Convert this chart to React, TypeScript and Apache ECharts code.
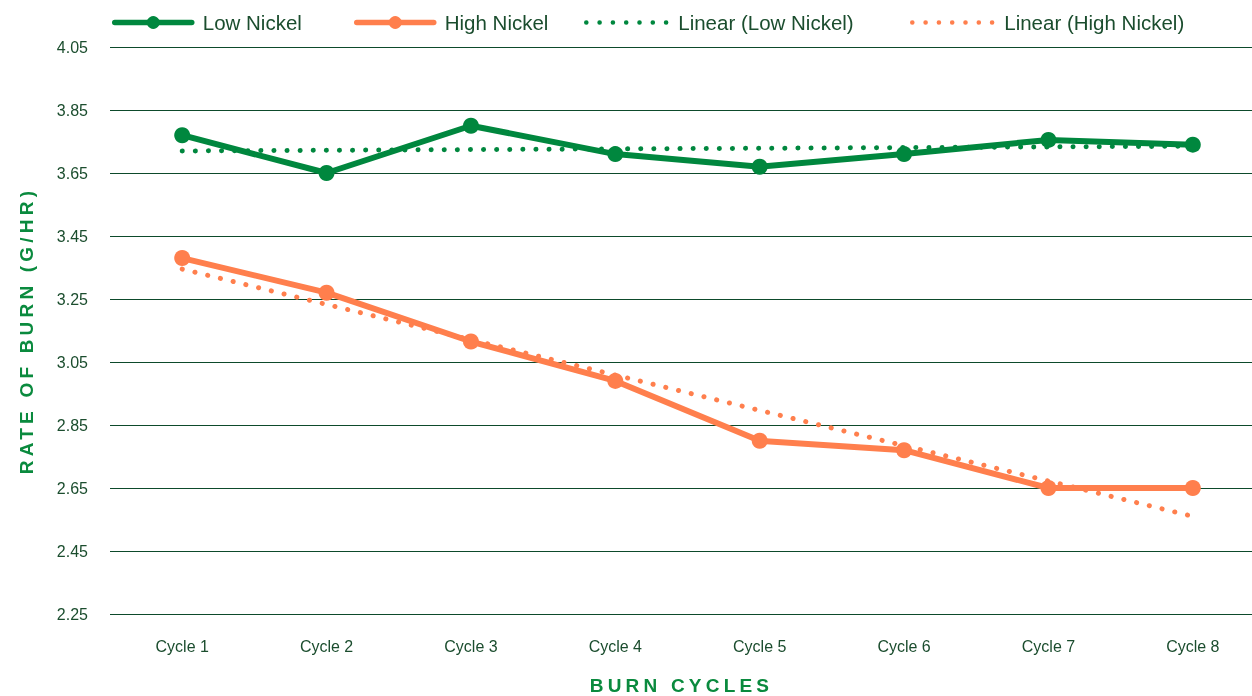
import React, { useEffect, useRef } from "react";
import * as echarts from "echarts";

const categories = ["Cycle 1", "Cycle 2", "Cycle 3", "Cycle 4", "Cycle 5", "Cycle 6", "Cycle 7", "Cycle 8"];
const lowNickel = [3.77, 3.65, 3.8, 3.71, 3.67, 3.71, 3.755, 3.74];
const highNickel = [3.38, 3.27, 3.115, 2.99, 2.8, 2.77, 2.65, 2.65];
const linearLowNickel: [number, number][] = [[0, 3.72], [7, 3.735]];
const linearHighNickel: [number, number][] = [[0, 3.345], [7, 2.56]];
const yMin = 2.25;
const yMax = 4.05;
const yStep = 0.2;

const GREEN = "#00873E";
const ORANGE = "#FF7F4D";
const TEXT = "#1B4D2E";
const TITLE = "#0A8A3E";
const GRID = "#0D4A2B";
const FONT = "'Liberation Sans', Arial, sans-serif";

export default function App() {
  const ref = useRef<HTMLDivElement>(null);
  useEffect(() => {
    if (!ref.current) return;
    const chart = echarts.init(ref.current, undefined, { renderer: "svg" });
    const legendText = (p: number) => ({ color: TEXT, fontSize: 20.5, fontFamily: FONT, padding: [0, 0, 0, p] });
    const dotLine = (c: string) => ({ color: c, width: 5, type: [0.1, 13], cap: "round" });
    const solidLegend = (name: string, left: number) => ({
      data: [{ name }],
      left,
      top: 7,
      itemWidth: 77,
      itemHeight: 16,
      textStyle: legendText(6),
      selectedMode: false,
      lineStyle: { width: 5.5, cap: "round" },
    });
    const dotLegend = (name: string, left: number) => ({
      data: [{ name }],
      left,
      top: 7,
      itemWidth: 80,
      itemHeight: 16,
      textStyle: legendText(7),
      selectedMode: false,
      itemStyle: { opacity: 0 },
      lineStyle: { width: 4.5, type: [0.1, 13.2], cap: "round" },
    });
    chart.setOption({
      animation: false,
      grid: { left: 110, right: -13, top: 47, bottom: 82, outerBoundsMode: "none", containLabel: false },
      legend: [
        solidLegend("Low Nickel", 107),
        solidLegend("High Nickel", 349),
        dotLegend("Linear (Low Nickel)", 579),
        dotLegend("Linear (High Nickel)", 905),
      ],
      xAxis: {
        type: "category",
        data: categories,
        boundaryGap: true,
        axisLine: { show: false },
        axisTick: { show: false },
        axisLabel: { color: TEXT, fontSize: 16, fontFamily: FONT, margin: 24 },
        name: "BURN CYCLES",
        nameLocation: "middle",
        nameGap: 62,
        nameTextStyle: { color: TITLE, fontSize: 19, fontWeight: "bold", fontFamily: FONT, padding: [0, 12, 0, 0] },
      },
      yAxis: {
        type: "value",
        min: yMin,
        max: yMax,
        interval: yStep,
        axisLine: { show: false },
        axisTick: { show: false },
        splitLine: { lineStyle: { color: GRID, width: 1 } },
        axisLabel: { color: TEXT, fontSize: 16, fontFamily: FONT, margin: 22, formatter: (v: number) => v.toFixed(2) },
        name: "RATE OF BURN (G/HR)",
        nameLocation: "middle",
        nameGap: 74,
        nameTextStyle: { color: TITLE, fontSize: 19, fontWeight: "bold", fontFamily: FONT },
      },
      series: [
        {
          name: "Low Nickel",
          type: "line",
          data: lowNickel,
          symbol: "circle",
          symbolSize: 16,
          itemStyle: { color: GREEN },
          lineStyle: { color: GREEN, width: 6 },
        },
        {
          name: "High Nickel",
          type: "line",
          data: highNickel,
          symbol: "circle",
          symbolSize: 16,
          itemStyle: { color: ORANGE },
          lineStyle: { color: ORANGE, width: 6 },
        },
        {
          name: "Linear (Low Nickel)",
          type: "line",
          data: linearLowNickel,
          symbol: "none",
          itemStyle: { color: GREEN },
          lineStyle: dotLine(GREEN),
        },
        {
          name: "Linear (High Nickel)",
          type: "line",
          data: linearHighNickel,
          symbol: "none",
          itemStyle: { color: ORANGE },
          lineStyle: dotLine(ORANGE),
        },
      ],
    });
    return () => chart.dispose();
  }, []);
  return (
    <>
      <style>{`#root svg text[style*="bold"] { letter-spacing: 4.2px; }`}</style>
      <div ref={ref} style={{ position: "fixed", left: 0, top: 0, width: 1252, height: 696 }} />
    </>
  );
}
